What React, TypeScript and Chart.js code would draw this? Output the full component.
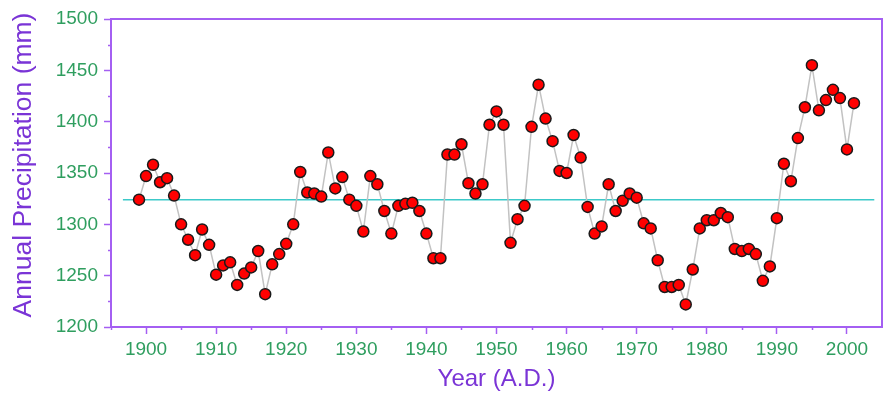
import React, { useEffect, useRef } from "react";
import { Chart, registerables } from "chart.js";

Chart.register(...registerables);

const firstYear = 1899;
const precipitation = [
  1324, 1347, 1358, 1341, 1345, 1328, 1300, 1285, 1270, 1295,
  1280, 1251, 1260, 1263, 1241, 1252, 1258, 1274, 1232, 1261,
  1271, 1281, 1300, 1351, 1331, 1330, 1327, 1370, 1335, 1346,
  1324, 1318, 1293, 1347, 1339, 1313, 1291, 1318, 1320, 1321,
  1313, 1291, 1267, 1267, 1368, 1368, 1378, 1340, 1330, 1339,
  1397, 1410, 1397, 1282, 1305, 1318, 1395, 1436, 1403, 1381,
  1352, 1350, 1387, 1365, 1317, 1291, 1298, 1339, 1313, 1323,
  1330, 1326, 1301, 1296, 1265, 1239, 1239, 1241, 1222, 1256,
  1296, 1304, 1304, 1311, 1307, 1276, 1274, 1276, 1271, 1245,
  1259, 1306, 1359, 1342, 1384, 1414, 1455, 1411, 1421, 1431,
  1423, 1373, 1418,
];
const years = precipitation.map((_, i) => firstYear + i);
const meanValue = 1324;
const meanSpan = [1896.7, 2003.9];
const xTicks = [1900, 1910, 1920, 1930, 1940, 1950, 1960, 1970, 1980, 1990, 2000];
const xMinorTicks = [1895, 1905, 1915, 1925, 1935, 1945, 1955, 1965, 1975, 1985, 1995, 2005];
const yTicks = [1200, 1250, 1300, 1350, 1400, 1450, 1500];
const yMinorTicks = [1225, 1275, 1325, 1375, 1425, 1475];
const yTitle = "Annual Precipitation (mm)";
const xTitle = "Year (A.D.)";

const PURPLE = "#a45ff2";
const TITLE_PURPLE = "#7a34d6";
const GREEN = "#2f9e5f";
const FONT = "'Liberation Sans', Arial, sans-serif";

const framePlugin = {
  id: "frameAndMinor",
  afterDraw(chart: any) {
    const { ctx, chartArea } = chart;
    const xs = chart.scales.x;
    const ys = chart.scales.y;
    ctx.save();
    ctx.strokeStyle = PURPLE;
    ctx.lineWidth = 2;
    ctx.beginPath();
    ctx.moveTo(chartArea.left, chartArea.top);
    ctx.lineTo(chartArea.right, chartArea.top);
    ctx.lineTo(chartArea.right, chartArea.bottom);
    ctx.stroke();
    ctx.lineWidth = 1.5;
    ctx.beginPath();
    for (const v of xMinorTicks) {
      const px = Math.round(xs.getPixelForValue(v)) + 0.5;
      if (px < chartArea.left || px > chartArea.right) continue;
      ctx.moveTo(px, chartArea.bottom);
      ctx.lineTo(px, chartArea.bottom + 3);
    }
    for (const v of yMinorTicks) {
      const py = Math.round(ys.getPixelForValue(v)) + 0.5;
      ctx.moveTo(chartArea.left, py);
      ctx.lineTo(chartArea.left - 3, py);
    }
    ctx.stroke();
    // y axis title
    ctx.translate(24, 165);
    ctx.rotate(-Math.PI / 2);
    ctx.fillStyle = TITLE_PURPLE;
    ctx.font = `26.5px ${FONT}`;
    ctx.textAlign = "center";
    ctx.textBaseline = "middle";
    ctx.fillText(yTitle, 0, 0);
    ctx.restore();
  },
};

export default function App() {
  const ref = useRef<HTMLCanvasElement>(null);

  useEffect(() => {
    document.body.style.margin = "0";
    const canvas = ref.current!;
    const chart = new Chart(canvas, {
      type: "line",
      data: {
        datasets: [
          {
            label: "Annual Precipitation",
            data: years.map((y, i) => ({ x: y, y: precipitation[i] })),
            borderColor: "#c2c2c2",
            borderWidth: 1.5,
            pointRadius: 5.5,
            pointBackgroundColor: "#ff0000",
            pointBorderColor: "#1a1a1a",
            pointBorderWidth: 1.5,
            tension: 0,
            order: 0,
          },
          {
            label: "Mean",
            data: meanSpan.map((x) => ({ x, y: meanValue })),
            borderColor: "#3cc9c9",
            borderWidth: 1.5,
            pointRadius: 0,
            order: 1,
          },
        ],
      },
      options: {
        animation: false,
        responsive: false,
        maintainAspectRatio: false,
        layout: { autoPadding: false, padding: { top: 19, right: 1, left: 0, bottom: 0 } },
        plugins: { legend: { display: false }, tooltip: { enabled: false } },
        scales: {
          x: {
            type: "linear",
            min: 1895,
            max: 2005,
            afterBuildTicks: (s: any) => {
              s.ticks = xTicks.map((v) => ({ value: v }));
            },
            afterFit: (s: any) => {
              s.height = 67;
              s.paddingRight = 0;
              s.paddingLeft = 0;
            },
            grid: {
              drawOnChartArea: false,
              drawTicks: true,
              tickLength: 7,
              tickColor: PURPLE,
              tickWidth: 1.5,
            },
            border: { color: PURPLE, width: 2 },
            ticks: {
              color: GREEN,
              font: { family: FONT, size: 19 },
              padding: 4,
              maxRotation: 0,
              autoSkip: false,
              callback: (v: any) => String(v),
            },
            title: {
              display: true,
              text: xTitle,
              color: TITLE_PURPLE,
              font: { family: FONT, size: 24 },
              padding: { top: 0, bottom: 0 },
            },
          },
          y: {
            type: "linear",
            min: 1200,
            max: 1500,
            afterBuildTicks: (s: any) => {
              s.ticks = yTicks.map((v) => ({ value: v }));
            },
            afterFit: (s: any) => {
              s.width = 111;
            },
            grid: {
              drawOnChartArea: false,
              drawTicks: true,
              tickLength: 7,
              tickColor: PURPLE,
              tickWidth: 1.5,
            },
            border: { color: PURPLE, width: 2 },
            ticks: {
              color: GREEN,
              font: { family: FONT, size: 19 },
              padding: 6,
              autoSkip: false,
              callback: (v: any) => String(v),
            },
          },
        },
      },
      plugins: [framePlugin],
    });
    return () => chart.destroy();
  }, []);

  return (
    <div style={{ width: 883, height: 394 }}>
      <canvas ref={ref} width={883} height={394} style={{ display: "block" }} />
    </div>
  );
}
